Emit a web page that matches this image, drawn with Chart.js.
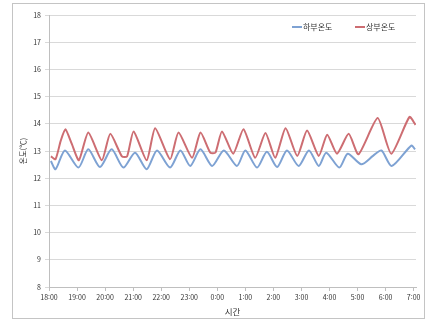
<!DOCTYPE html>
<html lang="ko">
<head>
<meta charset="utf-8">
<title>온도</title>
<script src="https://cdn.jsdelivr.net/npm/chart.js@4.4.1/dist/chart.umd.min.js"></script>
<style>
  html, body { margin: 0; padding: 0; background: #fff; }
  #wrap { width: 433px; height: 320px; }
</style>
</head>
<body>
<div id="wrap"><canvas id="tempChart" width="433" height="320"></canvas></div>
<script>
// time = minutes after 18:00, taken at the turning points of each curve
const lowerTimes = [4, 14, 34, 63, 84, 109, 134, 159, 184, 209, 231, 259, 281, 302, 324, 349, 374, 402, 420, 445, 466, 488, 509, 534, 556, 577, 593, 621, 639, 668, 693, 711, 733, 775, 783];
const lowerTemps = [12.63, 12.33, 13.02, 12.39, 13.06, 12.41, 13.06, 12.39, 12.94, 12.33, 13.02, 12.39, 13.02, 12.45, 13.06, 12.45, 13.02, 12.45, 13.02, 12.39, 12.97, 12.41, 13.02, 12.45, 13.02, 12.45, 12.94, 12.39, 12.9, 12.51, 12.82, 13.02, 12.45, 13.2, 13.06];

const upperTimes = [4, 14, 25, 35, 49, 64, 84, 113, 131, 156, 167, 181, 209, 227, 259, 277, 306, 324, 345, 356, 370, 394, 416, 441, 463, 484, 506, 531, 552, 577, 595, 616, 641, 662, 703, 732, 771, 784];
const upperTemps = [12.8, 12.7, 13.37, 13.8, 13.25, 12.66, 13.68, 12.66, 13.63, 12.8, 12.8, 13.72, 12.66, 13.84, 12.7, 13.68, 12.75, 13.68, 12.94, 12.94, 13.72, 12.9, 13.8, 12.75, 13.66, 12.75, 13.84, 12.82, 13.75, 12.82, 13.6, 12.9, 13.63, 12.88, 14.21, 12.9, 14.25, 13.96];

const hourLabels = ['18:00', '19:00', '20:00', '21:00', '22:00', '23:00', '0:00', '1:00', '2:00', '3:00', '4:00', '5:00', '6:00', '7:00'];
const seriesNames = ['하부온도', '상부온도'];

function toPoints(times, temps) {
    return times.map((t, i) => ({ x: t, y: temps[i] }));
}

const fontFamily = "'Noto Sans CJK KR', 'Noto Sans', sans-serif";

// white background and the thin grey frame round the whole picture
const framePlugin = {
    id: 'frame',
    beforeDraw(chart) {
        const c = chart.ctx;
        c.save();
        c.fillStyle = '#ffffff';
        c.fillRect(0, 0, chart.width, chart.height);
        c.strokeStyle = '#c4c4c4';
        c.lineWidth = 1;
        c.strokeRect(12.5, 3.5, 412, 315);
        c.restore();
    }
};

// legend sits inside the plot, top right, short line + name
const insideLegend = {
    id: 'insideLegend',
    afterDraw(chart) {
        const c = chart.ctx;
        const area = chart.chartArea;
        const y = area.top + 12;
        const starts = [area.right - 124, area.right - 61];
        c.save();
        c.font = '8px ' + fontFamily;
        c.textBaseline = 'middle';
        c.fillStyle = '#333333';
        chart.data.datasets.forEach((ds, i) => {
            const x = starts[i];
            c.strokeStyle = ds.borderColor;
            c.lineWidth = 2;
            c.beginPath();
            c.moveTo(x, y);
            c.lineTo(x + 10, y);
            c.stroke();
            c.fillText(ds.label, x + 11, y);
        });
        c.restore();
    }
};

const textFont = { family: fontFamily, size: 7 };

const ctx = document.getElementById('tempChart').getContext('2d');
const chart = new Chart(ctx, {
    type: 'line',
    data: {
        datasets: [{
            label: seriesNames[0],
            data: toPoints(lowerTimes, lowerTemps),
            borderColor: '#7ea2d3',
            backgroundColor: '#7ea2d3',
            borderWidth: 2,
            pointRadius: 0,
            tension: 0.25
        }, {
            label: seriesNames[1],
            data: toPoints(upperTimes, upperTemps),
            borderColor: '#cd6d72',
            backgroundColor: '#cd6d72',
            borderWidth: 2,
            pointRadius: 0,
            tension: 0.2
        }]
    },
    options: {
        responsive: false,
        animation: false,
        devicePixelRatio: 1,
        layout: { padding: { left: 12, top: 15, right: 17, bottom: 2 } },
        plugins: {
            legend: { display: false },
            tooltip: { enabled: false }
        },
        scales: {
            x: {
                type: 'linear',
                min: 0,
                max: 785,
                afterBuildTicks: axis => {
                    axis.ticks = hourLabels.map((l, i) => ({ value: i * 60 }));
                },
                afterFit: axis => { axis.height = 31; },
                ticks: {
                    autoSkip: false,
                    maxRotation: 0,
                    padding: 2,
                    color: '#333333',
                    font: textFont,
                    callback: (value, index) => hourLabels[index]
                },
                grid: {
                    drawOnChartArea: false,
                    drawTicks: true,
                    tickLength: 4,
                    color: '#bfbfbf'
                },
                border: { color: '#bfbfbf' },
                title: {
                    display: true,
                    text: '시간',
                    color: '#333333',
                    font: { family: fontFamily, size: 8.5 },
                    padding: { top: 0, bottom: 1 }
                }
            },
            y: {
                min: 8,
                max: 18,
                afterFit: axis => { axis.width = 37; },
                ticks: {
                    stepSize: 1,
                    padding: 4,
                    color: '#333333',
                    font: textFont
                },
                grid: {
                    color: '#d9d9d9',
                    tickLength: 4
                },
                border: { color: '#bfbfbf' },
                title: {
                    display: true,
                    text: '온도(℃)',
                    color: '#333333',
                    font: { family: fontFamily, size: 7.5 },
                    padding: { top: 7, bottom: 0 }
                }
            }
        }
    },
    plugins: [framePlugin, insideLegend]
});
</script>
</body>
</html>
